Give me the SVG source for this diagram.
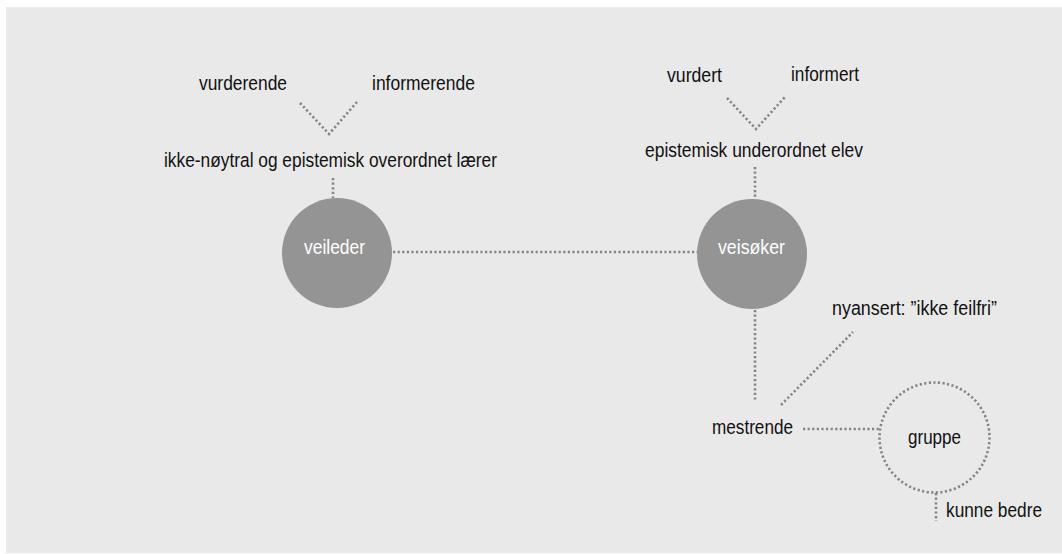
<svg xmlns="http://www.w3.org/2000/svg" width="1062" height="554" viewBox="0 0 1062 554">
  <style>
    .lbl { font-family: "Liberation Sans", Arial, sans-serif; font-size: 20.5px; fill: #111111; }
    .in { font-family: "Liberation Sans", Arial, sans-serif; font-size: 20.5px; fill: #ffffff; text-anchor: middle; }
    .dot { stroke: #858585; stroke-width: 2.6; stroke-dasharray: 2.2 2.4; fill: none; }
    .disc { fill: #949494; }
  </style>
  <rect x="6" y="7" width="1056" height="546" fill="#e9e9e9"/>

  <g id="connectors">
    <path class="dot" d="M300 103 L329 134 L357 102"/>
    <path class="dot" d="M333 178 V198"/>
    <path class="dot" d="M727 98 L756 129 L785 97"/>
    <path class="dot" d="M755 167 V198"/>
    <path class="dot" d="M393 252 H698"/>
    <path class="dot" d="M755 310 V402"/>
    <path class="dot" d="M781 405 L853 332"/>
    <path class="dot" d="M803 429 H880"/>
    <path class="dot" d="M936 493 V521"/>
  </g>

  <g id="veileder">
    <circle class="disc" cx="337" cy="253" r="55"/>
    <text class="in" x="334.5" y="254" textLength="61" lengthAdjust="spacingAndGlyphs">veileder</text>
  </g>
  <g id="veisoker">
    <circle class="disc" cx="752" cy="254" r="55"/>
    <text class="in" x="751.5" y="254" textLength="67" lengthAdjust="spacingAndGlyphs">veisøker</text>
  </g>
  <g id="gruppe">
    <circle class="dot" cx="934.5" cy="437.5" r="55"/>
    <text class="lbl" x="908" y="444" textLength="53" lengthAdjust="spacingAndGlyphs">gruppe</text>
  </g>

  <g id="vurderende"><text class="lbl" x="199" y="90" textLength="88" lengthAdjust="spacingAndGlyphs">vurderende</text></g>
  <g id="informerende"><text class="lbl" x="372" y="90" textLength="103" lengthAdjust="spacingAndGlyphs">informerende</text></g>
  <g id="laerer"><text class="lbl" x="164" y="167" textLength="333" lengthAdjust="spacingAndGlyphs">ikke-nøytral og epistemisk overordnet lærer</text></g>
  <g id="vurdert"><text class="lbl" x="667" y="82" textLength="55" lengthAdjust="spacingAndGlyphs">vurdert</text></g>
  <g id="informert"><text class="lbl" x="791" y="81" textLength="68" lengthAdjust="spacingAndGlyphs">informert</text></g>
  <g id="elev"><text class="lbl" x="645" y="157" textLength="218" lengthAdjust="spacingAndGlyphs">epistemisk underordnet elev</text></g>
  <g id="nyansert"><text class="lbl" x="832" y="315" textLength="165" lengthAdjust="spacingAndGlyphs">nyansert: ”ikke feilfri”</text></g>
  <g id="mestrende"><text class="lbl" x="712" y="434" textLength="81" lengthAdjust="spacingAndGlyphs">mestrende</text></g>
  <g id="kunne-bedre"><text class="lbl" x="946" y="517" textLength="96" lengthAdjust="spacingAndGlyphs">kunne bedre</text></g>
</svg>
